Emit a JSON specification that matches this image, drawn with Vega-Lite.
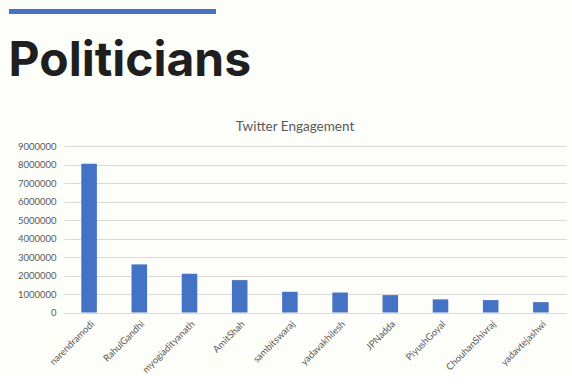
{
  "$schema": "https://vega.github.io/schema/vega-lite/v6.json",
  "background": "#fdfdfa",
  "padding": {"left": 8, "top": 8, "right": 7, "bottom": 0},
  "config": {"view": {"stroke": null}, "font": "Lato"},
  "spacing": 33,
  "vconcat": [
    {
      "width": 207,
      "height": 5,
      "view": {"fill": "#4472C4", "stroke": null},
      "data": {"values": [{}]},
      "mark": {"type": "rule", "opacity": 0},
      "encoding": {},
      "title": {
        "text": "Politicians",
        "orient": "bottom",
        "anchor": "start",
        "fontSize": 48,
        "font": "Inter",
        "fontWeight": 700,
        "color": "#1f1f1f",
        "offset": 24
      }
    },
    {
      "spacing": 0,
      "hconcat": [
        {
          "width": 1,
          "height": 1,
          "data": {"values": [{}]},
          "mark": {"type": "rule", "opacity": 0},
          "encoding": {}
        },
        {
          "width": 502,
          "height": 166.5,
          "title": {
            "text": "Twitter Engagement",
            "fontSize": 13.5,
            "font": "Lato",
            "fontWeight": "normal",
            "color": "#595959",
            "anchor": "middle",
            "offset": 8,
            "dx": -20
          },
          "data": {
            "values": [
              {"handle": "narendramodi", "engagement": 8040000},
              {"handle": "RahulGandhi", "engagement": 2600000},
              {"handle": "myogiadityanath", "engagement": 2100000},
              {"handle": "AmitShah", "engagement": 1750000},
              {"handle": "sambitswaraj", "engagement": 1120000},
              {"handle": "yadavakhilesh", "engagement": 1080000},
              {"handle": "JPNadda", "engagement": 940000},
              {"handle": "PiyushGoyal", "engagement": 710000},
              {"handle": "ChouhanShivraj", "engagement": 670000},
              {"handle": "yadavtejashwi", "engagement": 560000}
            ]
          },
          "mark": {"type": "bar", "color": "#4472C4"},
          "encoding": {
            "x": {
              "field": "handle",
              "type": "nominal",
              "sort": null,
              "scale": {"paddingInner": 0.69, "paddingOuter": 0.345},
              "axis": {
                "title": null,
                "labelAngle": -45,
                "domain": false,
                "ticks": false,
                "labelColor": "#595959",
                "labelFontSize": 9.5,
                "labelPadding": 6
              }
            },
            "y": {
              "field": "engagement",
              "type": "quantitative",
              "scale": {"domain": [0, 9000000], "nice": false},
              "axis": {
                "title": null,
                "values": [0, 1000000, 2000000, 3000000, 4000000, 5000000, 6000000, 7000000, 8000000, 9000000],
                "format": "d",
                "domain": false,
                "ticks": false,
                "gridColor": "#d9d9d9",
                "labelColor": "#595959",
                "labelFontSize": 9.5,
                "labelPadding": 8,
                "minExtent": 54
              }
            }
          }
        }
      ]
    }
  ]
}
